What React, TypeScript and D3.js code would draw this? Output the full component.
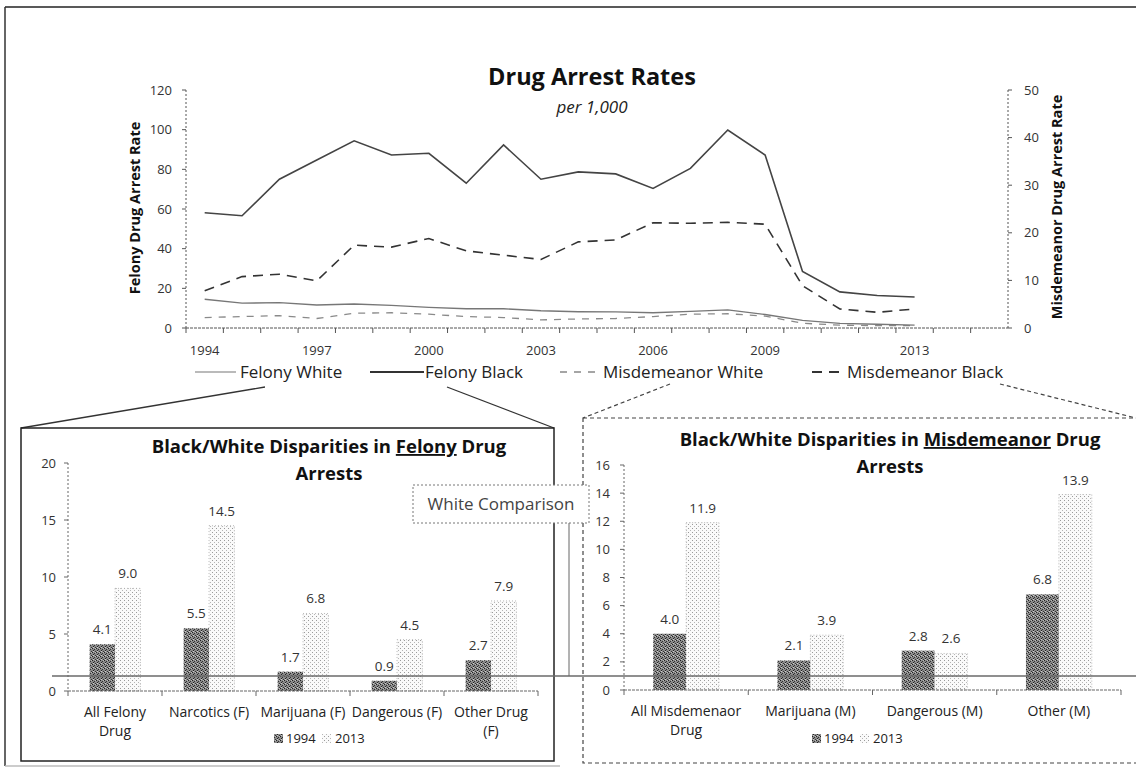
import React from "react";
import * as d3 from "d3";

// ---------- Data ----------
const axisYears = [1994, 1995, 1996, 1997, 1998, 1999, 2000, 2001, 2002, 2003, 2004, 2005, 2006, 2007, 2008, 2009, 2010, 2011, 2012, 2013, 2014, 2015];
const years = [1994, 1995, 1996, 1997, 1998, 1999, 2000, 2001, 2002, 2003, 2004, 2005, 2006, 2007, 2008, 2009, 2010, 2011, 2012, 2013];
const yearTickLabels = [1994, 1997, 2000, 2003, 2006, 2009, 2013];
const felonyWhite = [14.5, 12.5, 12.8, 11.6, 12.1, 11.4, 10.4, 9.7, 9.7, 8.7, 8.2, 8.1, 7.7, 8.4, 9.1, 6.8, 3.8, 2.3, 1.9, 1.5];
const felonyBlack = [58.1, 56.6, 75.0, 84.7, 94.4, 87.2, 88.1, 73.0, 92.3, 75.0, 78.7, 77.7, 70.4, 80.5, 99.8, 87.2, 28.5, 18.2, 16.4, 15.6];
const misdWhite = [2.2, 2.4, 2.6, 2.0, 3.1, 3.2, 2.9, 2.4, 2.2, 1.7, 1.9, 2.0, 2.4, 2.9, 3.0, 2.5, 1.0, 0.6, 0.5, 0.5];
const misdBlack = [7.8, 10.8, 11.3, 9.9, 17.4, 17.0, 18.8, 16.2, 15.3, 14.4, 18.1, 18.5, 22.1, 22.0, 22.2, 21.8, 8.9, 4.0, 3.3, 4.0];
const leftTicks = [0, 20, 40, 60, 80, 100, 120];
const rightTicks = [0, 10, 20, 30, 40, 50];

const felonyCats = [["All Felony", "Drug"], ["Narcotics (F)"], ["Marijuana (F)"], ["Dangerous (F)"], ["Other Drug", "(F)"]];
const felony1994 = [4.1, 5.5, 1.7, 0.9, 2.7];
const felony2013 = [9.0, 14.5, 6.8, 4.5, 7.9];
const felonyTicks = [0, 5, 10, 15, 20];

const misdCats = [["All Misdemenaor", "Drug"], ["Marijuana (M)"], ["Dangerous (M)"], ["Other (M)"]];
const misd1994 = [4.0, 2.1, 2.8, 6.8];
const misd2013 = [11.9, 3.9, 2.6, 13.9];
const misdTicks = [0, 2, 4, 6, 8, 10, 12, 14, 16];

const barYears = ["1994", "2013"];
const whiteComparison = 1.0;

const FONT = "'Open Sans', 'Noto Sans', sans-serif";

// ---------- Top chart ----------
function TopChart() {
  const x = d3.scaleBand<number>().domain(axisYears).range([186, 1008]);
  const yL = d3.scaleLinear().domain([0, 120]).range([328, 90]);
  const yR = d3.scaleLinear().domain([0, 50]).range([328, 90]);
  const cx = (yr: number) => (x(yr) as number) + x.bandwidth() / 2;
  const mk = (vals: number[], sc: d3.ScaleLinear<number, number>) =>
    d3.line<number>().x((_, i) => cx(years[i])).y((v) => sc(v)).curve(d3.curveLinear)(vals) || "";
  const axisStroke = "#555";
  return (
    <g fontFamily={FONT}>
      <text x={592} y={85} textAnchor="middle" fontSize={23.5} fontWeight="bold" fill="#111">Drug Arrest Rates</text>
      <text x={592} y={113} textAnchor="middle" fontSize={17} fontStyle="italic" fill="#222">per 1,000</text>
      {/* axes */}
      <line x1={186} x2={186} y1={90} y2={328} stroke={axisStroke} strokeDasharray="2,2" />
      <line x1={1008} x2={1008} y1={90} y2={328} stroke={axisStroke} strokeDasharray="2,2" />
      <line x1={186} x2={1008} y1={328} y2={328} stroke={axisStroke} strokeDasharray="3,1" />
      {leftTicks.map((t) => (
        <g key={"l" + t}>
          <line x1={182} x2={186} y1={yL(t)} y2={yL(t)} stroke={axisStroke} />
          <text x={172} y={yL(t) + 4.5} textAnchor="end" fontSize={13} fill="#333">{t}</text>
        </g>
      ))}
      {rightTicks.map((t) => (
        <g key={"r" + t}>
          <line x1={1008} x2={1012} y1={yR(t)} y2={yR(t)} stroke={axisStroke} />
          <text x={1024} y={yR(t) + 4.5} textAnchor="start" fontSize={13} fill="#333">{t}</text>
        </g>
      ))}
      {axisYears.map((yr) => (
        <line key={"t" + yr} x1={x(yr) as number} x2={x(yr) as number} y1={328} y2={333} stroke={axisStroke} />
      ))}
      {yearTickLabels.map((yr) => (
        <text key={"yl" + yr} x={cx(yr)} y={355} textAnchor="middle" fontSize={13} fill="#333">{yr}</text>
      ))}
      <text transform="translate(140,208) rotate(-90)" textAnchor="middle" fontSize={14.5} fontWeight="bold" fill="#111">Felony Drug Arrest Rate</text>
      <text transform="translate(1062,207) rotate(-90)" textAnchor="middle" fontSize={14.5} fontWeight="bold" fill="#111">Misdemeanor Drug Arrest Rate</text>
      {/* series */}
      <path d={mk(misdWhite, yR)} fill="none" stroke="#8a8a8a" strokeWidth={1.3} strokeDasharray="7,7" />
      <path d={mk(felonyWhite, yL)} fill="none" stroke="#777" strokeWidth={1.3} />
      <path d={mk(misdBlack, yR)} fill="none" stroke="#333" strokeWidth={1.6} strokeDasharray="10,7" />
      <path d={mk(felonyBlack, yL)} fill="none" stroke="#444" strokeWidth={1.6} />
      {/* legend */}
      <line x1={195} x2={236} y1={372} y2={372} stroke="#777" strokeWidth={1.2} />
      <text x={240} y={378} fontSize={17} fill="#222">Felony White</text>
      <line x1={370} x2={424} y1={372} y2={372} stroke="#333" strokeWidth={1.8} />
      <text x={425} y={378} fontSize={17} fill="#222">Felony Black</text>
      <line x1={560} x2={598} y1={372} y2={372} stroke="#888" strokeWidth={1.3} strokeDasharray="7,7" />
      <text x={603} y={378} fontSize={17} fill="#222">Misdemeanor White</text>
      <line x1={812} x2={842} y1={372} y2={372} stroke="#333" strokeWidth={1.8} strokeDasharray="10,7" />
      <text x={847} y={378} fontSize={17} fill="#222">Misdemeanor Black</text>
    </g>
  );
}

// ---------- Bar panel ----------
type PanelProps = {
  cats: string[][];
  v1994: number[];
  v2013: number[];
  ticks: number[];
  xRange: [number, number];
  yRange: [number, number];
  yMax: number;
  titlePre: string;
  titleU: string;
  titlePost: string;
  titleX: number;
  titleY: number;
  tickX: number;
  legendX: number;
  legendY: number;
  groupFrac: number;
};

function BarPanel(p: PanelProps) {
  const idx = p.cats.map((_, i) => i);
  const x0 = d3.scaleBand<number>().domain(idx).range(p.xRange).paddingInner(0).paddingOuter(0);
  const gw = x0.bandwidth() * p.groupFrac;
  const x1 = d3.scaleBand<string>().domain(barYears).range([0, gw]);
  const y = d3.scaleLinear().domain([0, p.yMax]).range(p.yRange);
  const base = y(0);
  const gx = (i: number) => (x0(i) as number) + (x0.bandwidth() - gw) / 2;
  return (
    <g fontFamily={FONT}>
      <text x={p.titleX} y={p.titleY} textAnchor="middle" fontSize={18.5} fontWeight="bold" fill="#111">
        {p.titlePre}
        <tspan textDecoration="underline">{p.titleU}</tspan>
        {p.titlePost}
      </text>
      <text x={p.titleX} y={p.titleY + 27} textAnchor="middle" fontSize={18.5} fontWeight="bold" fill="#111">Arrests</text>
      <line x1={p.xRange[0]} x2={p.xRange[0]} y1={y(p.yMax)} y2={base} stroke="#666" strokeDasharray="2,2" />
      {p.ticks.map((t) => (
        <g key={t}>
          <line x1={p.xRange[0] - 4} x2={p.xRange[0]} y1={y(t)} y2={y(t)} stroke="#666" />
          <text x={p.tickX} y={y(t) + 4.5} textAnchor="end" fontSize={13} fill="#333">{t}</text>
        </g>
      ))}
      {idx.map((i) => (
        <g key={"b" + i}>
          <rect x={gx(i) + (x1("1994") as number)} y={y(p.v1994[i])} width={x1.bandwidth()} height={base - y(p.v1994[i])} fill="url(#pat1994)" />
          <rect x={gx(i) + (x1("2013") as number)} y={y(p.v2013[i])} width={x1.bandwidth()} height={base - y(p.v2013[i])} fill="url(#pat2013)" stroke="#aaa" strokeWidth={0.8} strokeDasharray="1,2" />
          <text x={gx(i) + (x1("1994") as number) + x1.bandwidth() / 2} y={y(p.v1994[i]) - 10} textAnchor="middle" fontSize={13.5} fill="#333">{p.v1994[i].toFixed(1)}</text>
          <text x={gx(i) + (x1("2013") as number) + x1.bandwidth() / 2} y={y(p.v2013[i]) - 10} textAnchor="middle" fontSize={13.5} fill="#333">{p.v2013[i].toFixed(1)}</text>
          {p.cats[i].map((ln, k) => (
            <text key={k} x={(x0(i) as number) + x0.bandwidth() / 2} y={base + 26 + k * 19} textAnchor="middle" fontSize={14} fill="#222">{ln}</text>
          ))}
        </g>
      ))}
      <line x1={p.xRange[0]} x2={p.xRange[1]} y1={base} y2={base} stroke="#666" strokeDasharray="3,1" />
      {[...idx, p.cats.length].map((i) => {
        const xx = i < p.cats.length ? (x0(i) as number) : p.xRange[1];
        return <line key={"xt" + i} x1={xx} x2={xx} y1={base} y2={base + 5} stroke="#666" />;
      })}
      {/* legend */}
      <rect x={p.legendX} y={p.legendY - 9} width={9} height={9} fill="url(#pat1994)" />
      <text x={p.legendX + 12} y={p.legendY} fontSize={13} fill="#222">1994</text>
      <rect x={p.legendX + 48} y={p.legendY - 9} width={9} height={9} fill="url(#pat2013)" />
      <text x={p.legendX + 61} y={p.legendY} fontSize={13} fill="#222">2013</text>
    </g>
  );
}

export default function App() {
  const yMisd = d3.scaleLinear().domain([0, 16]).range([690, 465]);
  const cmpY = yMisd(whiteComparison);
  return (
    <svg width={1136} height={768} style={{ position: "absolute", left: 0, top: 0, background: "#fff" }}>
      <defs>
        <pattern id="pat1994" width={4} height={4} patternUnits="userSpaceOnUse">
          <rect width={4} height={4} fill="#8a8a8a" />
          <rect x={0} y={0} width={1} height={1} fill="#222" />
          <rect x={2} y={1} width={1} height={1} fill="#333" />
          <rect x={1} y={2} width={1} height={1} fill="#222" />
          <rect x={3} y={3} width={1} height={1} fill="#333" />
          <rect x={3} y={0} width={1} height={1} fill="#bbb" />
          <rect x={1} y={3} width={1} height={1} fill="#ccc" />
        </pattern>
        <pattern id="pat2013" width={4} height={4} patternUnits="userSpaceOnUse">
          <rect width={4} height={4} fill="#fafafa" />
          <rect x={0} y={0} width={1} height={1} fill="#9a9a9a" />
          <rect x={2} y={2} width={1} height={1} fill="#b5b5b5" />
        </pattern>
      </defs>
      {/* outer frame */}
      <line x1={5} x2={1136} y1={7} y2={7} stroke="#222" strokeWidth={1.5} />
      <line x1={5} x2={5} y1={7} y2={766} stroke="#333" strokeWidth={1.5} />
      <line x1={5} x2={560} y1={766} y2={766} stroke="#bbb" strokeWidth={1.5} />

      <TopChart />

      {/* connectors */}
      <line x1={265} y1={387} x2={21} y2={428} stroke="#333" strokeWidth={1.3} />
      <line x1={447} y1={387} x2={554} y2={428} stroke="#333" strokeWidth={1.3} />
      <line x1={670} y1={384} x2={583} y2={418} stroke="#444" strokeWidth={1.2} strokeDasharray="4,3" />
      <line x1={1000} y1={384} x2={1136} y2={418} stroke="#444" strokeWidth={1.2} strokeDasharray="4,3" />

      {/* panel boxes */}
      <rect x={21} y={428} width={533} height={333} fill="none" stroke="#222" strokeWidth={1.5} />
      <rect x={583} y={418} width={560} height={345} fill="none" stroke="#444" strokeWidth={1.2} strokeDasharray="4,3" />

      <BarPanel
        cats={felonyCats} v1994={felony1994} v2013={felony2013} ticks={felonyTicks}
        xRange={[68, 538]} yRange={[691, 463]} yMax={20}
        titlePre="Black/White Disparities in " titleU="Felony" titlePost=" Drug"
        titleX={329} titleY={453} tickX={56} legendX={274} legendY={743} groupFrac={0.54}
      />
      <BarPanel
        cats={misdCats} v1994={misd1994} v2013={misd2013} ticks={misdTicks}
        xRange={[624, 1121]} yRange={[690, 465]} yMax={16}
        titlePre="Black/White Disparities in " titleU="Misdemeanor" titlePost=" Drug"
        titleX={890} titleY={446} tickX={610} legendX={812} legendY={743} groupFrac={0.53}
      />

      {/* white comparison line & callout */}
      <line x1={52} x2={1136} y1={cmpY} y2={cmpY} stroke="#6a6a6a" strokeWidth={1.5} />
      <line x1={569} x2={569} y1={523} y2={cmpY} stroke="#666" strokeWidth={1} />
      <rect x={413} y={485} width={176} height={38} fill="#fff" stroke="#777" strokeDasharray="2,2" />
      <text x={501} y={510} textAnchor="middle" fontFamily={FONT} fontSize={17} fill="#444">White Comparison</text>
    </svg>
  );
}
